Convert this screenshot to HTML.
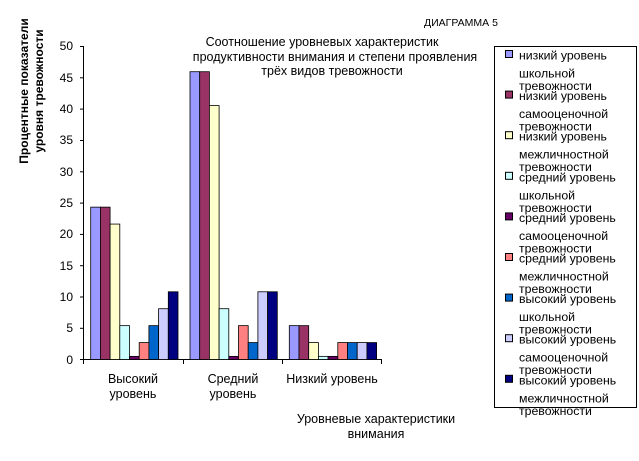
<!DOCTYPE html>
<html><head><meta charset="utf-8"><style>
body{margin:0;background:#fff}
svg{display:block;font-family:"Liberation Sans",Arial,sans-serif}
</style></head><body>
<svg width="639" height="461" xmlns="http://www.w3.org/2000/svg">
<rect width="639" height="461" fill="#fff"/>
<text x="424" y="26" font-size="10.5">ДИАГРАММА 5</text>
<g font-size="12.5" text-anchor="middle" fill="#000">
<text x="322" y="46">Соотношение уровневых характеристик</text>
<text x="335" y="61">продуктивности внимания и степени проявления</text>
<text x="332" y="75">трёх видов тревожности</text>
</g>
<g font-size="12" font-weight="bold" text-anchor="middle">
<text transform="translate(28,91) rotate(-90)">Процентные показатели</text>
<text transform="translate(43,91) rotate(-90)">уровня тревожности</text>
</g>
<g font-size="12" text-anchor="end">
<text x="73" y="50">50</text><text x="73" y="82">45</text><text x="73" y="113">40</text>
<text x="73" y="144">35</text><text x="73" y="176">30</text><text x="73" y="207">25</text>
<text x="73" y="238">20</text><text x="73" y="270">15</text><text x="73" y="301">10</text>
<text x="73" y="332">5</text><text x="73" y="364">0</text>
</g>
<g stroke="#000" stroke-width="1">
<line x1="83.5" y1="46" x2="83.5" y2="360"/>
<line x1="83" y1="359.5" x2="382" y2="359.5"/>
<line x1="80" y1="46.5" x2="83" y2="46.5"/><line x1="80" y1="77.8" x2="83" y2="77.8"/>
<line x1="80" y1="109.1" x2="83" y2="109.1"/><line x1="80" y1="140.5" x2="83" y2="140.5"/>
<line x1="80" y1="171.8" x2="83" y2="171.8"/><line x1="80" y1="203.1" x2="83" y2="203.1"/>
<line x1="80" y1="234.4" x2="83" y2="234.4"/><line x1="80" y1="265.7" x2="83" y2="265.7"/>
<line x1="80" y1="297" x2="83" y2="297"/><line x1="80" y1="328.3" x2="83" y2="328.3"/>
<line x1="80" y1="359.5" x2="83" y2="359.5"/>
<line x1="83.5" y1="360" x2="83.5" y2="364"/><line x1="183.5" y1="360" x2="183.5" y2="364"/>
<line x1="282.5" y1="360" x2="282.5" y2="364"/><line x1="381.5" y1="360" x2="381.5" y2="364"/>
</g>
<g stroke="#000" stroke-width="0.8" id="bars"></g>
<g font-size="12.5" text-anchor="middle">
<text x="133" y="383">Высокий</text><text x="133" y="398">уровень</text>
<text x="233" y="383">Средний</text><text x="233" y="398">уровень</text>
<text x="332" y="383">Низкий уровень</text>
<text x="376" y="423">Уровневые характеристики</text><text x="376" y="438">внимания</text>
</g>
<rect x="494.5" y="46.5" width="142" height="361" fill="none" stroke="#000"/>
<g id="leg" font-size="12.3"></g>
<script>
var cols=["#9999FF","#993366","#FFFFCC","#CCFFFF","#660066","#FF8080","#0066CC","#CCCCFF","#000080"];
var vals=[[24.3,24.3,21.6,5.4,0.5,2.7,5.4,8.1,10.8],[45.9,45.9,40.5,8.1,0.5,5.4,2.7,10.8,10.8],[5.4,5.4,2.7,0.5,0.5,2.7,2.7,2.7,2.7]];
var ns="http://www.w3.org/2000/svg",g=document.getElementById("bars");
for(var c=0;c<3;c++)for(var i=0;i<9;i++){var v=vals[c][i],h=v*6.27,r=document.createElementNS(ns,"rect");
r.setAttribute("x",90.7+c*99.3+i*9.7);r.setAttribute("y",359.5-h);r.setAttribute("width",9.7);r.setAttribute("height",h);r.setAttribute("fill",cols[i]);g.appendChild(r);}
var L=[["низкий уровень","школьной"],["низкий уровень","самооценочной"],["низкий уровень","межличностной"],["средний уровень","школьной"],["средний уровень","самооценочной"],["средний уровень","межличностной"],["высокий уровень","школьной"],["высокий уровень","самооценочной"],["высокий уровень","межличностной"]];
var lg=document.getElementById("leg");
for(var i=0;i<9;i++){var y=55+i*40.6;var r=document.createElementNS(ns,"rect");
r.setAttribute("x",505.5);r.setAttribute("y",y-4.5);r.setAttribute("width",7);r.setAttribute("height",7);r.setAttribute("fill",cols[i]);r.setAttribute("stroke","#000");lg.appendChild(r);
var lines=[L[i][0],L[i][1],"тревожности"],ys=[y+4.5,y+22.5,y+35];
for(var k=0;k<3;k++){var t=document.createElementNS(ns,"text");t.setAttribute("x",519);t.setAttribute("y",ys[k]);t.textContent=lines[k];lg.appendChild(t);}}
</script>
</svg>
</body></html>
